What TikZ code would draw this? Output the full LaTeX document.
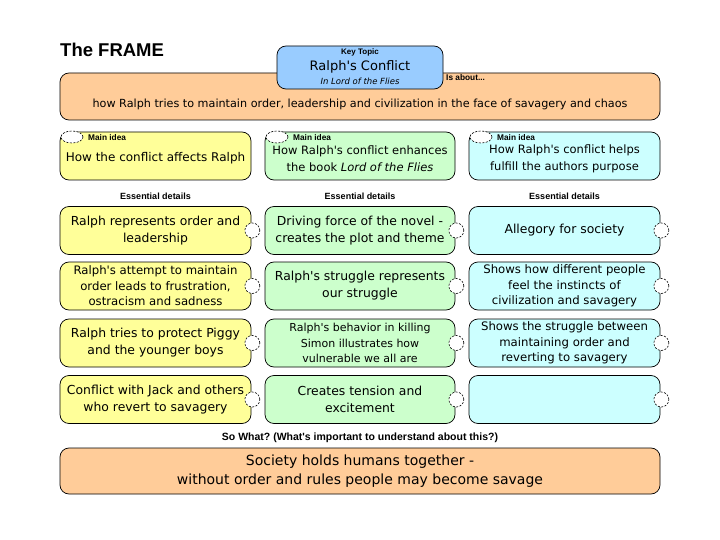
\documentclass[tikz,border=0pt]{standalone}
\usepackage{fontspec}
\setmainfont{DejaVu Sans}
\newfontfamily\labfont{Liberation Sans}
\usetikzlibrary{shapes.geometric}
\newcommand\ap{\textquotesingle}
\frenchspacing
\definecolor{cyel}{HTML}{FFFF99}
\definecolor{cgrn}{HTML}{CCFFCC}
\definecolor{cblu}{HTML}{CCFFFF}
\definecolor{corg}{HTML}{FFCC99}
\definecolor{ckey}{HTML}{99CCFF}
\begin{document}
\begin{tikzpicture}[x=1pt,y=-1pt,
  box/.style={draw=black, line width=0.7pt, rounded corners=9pt, inner sep=1pt, align=center, minimum height=48pt},
  colbox/.style={box, minimum width=191pt},
  big/.style={font=\fontsize{12.4}{17}\selectfont},
  small/.style={font=\fontsize{11.7}{15.5}\selectfont},
  txt/.style={inner sep=0pt, align=center},
  lab/.style={font=\labfont\bfseries\fontsize{9}{10}\selectfont, inner sep=0pt},
  mlab/.style={font=\labfont\bfseries\fontsize{8.3}{9}\selectfont, inner sep=0pt, anchor=west},
  knob/.style={circle, draw=black, dash pattern=on 2pt off 1.5pt, line width=0.6pt, fill=white, minimum size=15pt, inner sep=0pt},
  hole/.style={ellipse, draw=black, dash pattern=on 2pt off 1.5pt, line width=0.6pt, fill=white, minimum width=22pt, minimum height=12pt, inner sep=0pt}
]
\useasboundingbox[fill=white] (0,0) rectangle (720,540);

% title
\node[font=\labfont\bfseries\fontsize{18.5}{20}\selectfont, anchor=west, inner sep=0pt] (title) at (60,50) {The FRAME};

% top box
\node[box, fill=corg, minimum width=600pt, minimum height=47pt] (about) at (360,96.5) {};
\node[txt, font=\fontsize{11.2}{14}\selectfont] (abouttxt) at (360,104) {how Ralph tries to maintain order, leadership and civilization in the face of savagery and chaos};
\node[mlab] (isabout) at (446,78) {Is about...};

% key topic
\node[box, fill=ckey, minimum width=166pt, minimum height=43pt] (key) at (360,67.5) {};
\node[lab, font=\labfont\bfseries\fontsize{8}{9}\selectfont] (keylab) at (360,52) {Key Topic};
\node[txt, font=\fontsize{13}{15}\selectfont] (keytxt) at (360,66.5) {Ralph\ap s Conflict};
\node[txt, font=\itshape\fontsize{8.5}{10}\selectfont] (keysub) at (360,81) {In Lord of the Flies};

% main idea boxes
\node[colbox, fill=cyel] (m1) at (155.5,156) {};
\node[colbox, fill=cgrn, minimum width=190pt] (m2) at (360,156) {};
\node[colbox, fill=cblu] (m3) at (564.5,156) {};
\node[txt, font=\fontsize{12}{17}\selectfont] (m1t) at (155.5,158.5) {How the conflict affects Ralph};
\node[txt, font=\fontsize{11.5}{17}\selectfont] (m2t) at (360,159) {How Ralph\ap s conflict enhances\\the book \textit{Lord of the Flies}};
\node[txt, font=\fontsize{11.5}{17}\selectfont] (m3t) at (564.5,159) {How Ralph\ap s conflict helps\\fulfill the authors purpose};
\node[hole] (h1) at (72,137) {};
\node[hole] (h2) at (277,137) {};
\node[hole] (h3) at (481,137) {};
\node[mlab] (ml1) at (88,138) {Main idea};
\node[mlab] (ml2) at (293,138) {Main idea};
\node[mlab] (ml3) at (497,138) {Main idea};

% essential details labels
\node[lab] (e1) at (155.5,196) {Essential details};
\node[lab] (e2) at (360,196) {Essential details};
\node[lab] (e3) at (564.5,196) {Essential details};

% row 1
\node[colbox, fill=cyel, big] (a1) at (155.5,230.5) {Ralph represents order and\\leadership};
\node[colbox, fill=cgrn, big, minimum width=190pt] (b1) at (360,230.5) {Driving force of the novel -\\creates the plot and theme};
\node[colbox, fill=cblu, big] (c1) at (564.5,230.5) {Allegory for society};
% row 2
\node[colbox, fill=cyel, small] (a2) at (155.5,286) {Ralph\ap s attempt to maintain\\order leads to frustration,\\ostracism and sadness};
\node[colbox, fill=cgrn, big, minimum width=190pt] (b2) at (360,286) {Ralph\ap s struggle represents\\our struggle};
\node[colbox, fill=cblu, small] (c2) at (564.5,286) {Shows how different people\\feel the instincts of\\civilization and savagery};
% row 3
\node[colbox, fill=cyel, big] (a3) at (155.5,343) {Ralph tries to protect Piggy\\and the younger boys};
\node[colbox, fill=cgrn, small, font=\fontsize{11}{15.5}\selectfont, minimum width=190pt] (b3) at (360,343) {Ralph\ap s behavior in killing\\Simon illustrates how\\vulnerable we all are};
\node[colbox, fill=cblu, small] (c3) at (564.5,343) {Shows the struggle between\\maintaining order and\\reverting to savagery};
% row 4
\node[colbox, fill=cyel, big] (a4) at (155.5,399.5) {Conflict with Jack and others\\who revert to savagery};
\node[colbox, fill=cgrn, big, minimum width=190pt] (b4) at (360,399.5) {Creates tension and\\excitement};
\node[colbox, fill=cblu, big] (c4) at (564.5,399.5) {};

% knobs on the right edges
\foreach \r in {1,2,3,4}{
  \node[knob] (ka\r) at ([xshift=1pt]a\r.east) {};
  \node[knob] (kb\r) at ([xshift=1pt]b\r.east) {};
  \node[knob] (kc\r) at ([xshift=1pt]c\r.east) {};
}

% so what
\node[lab, font=\labfont\bfseries\fontsize{10.5}{12}\selectfont] (sowhat) at (360,438) {So What? (What\ap s important to understand about this?)};
\node[box, fill=corg, minimum width=600pt, minimum height=46pt, font=\fontsize{14}{19}\selectfont] (bottom) at (360,471) {Society holds humans together -\\without order and rules people may become savage};
\end{tikzpicture}
\end{document}
